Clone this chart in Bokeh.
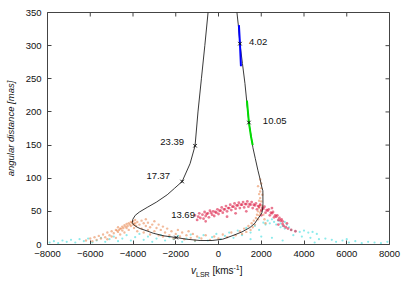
import math
from bokeh.plotting import figure
from bokeh.models import Range1d, FixedTicker, Div
from bokeh.layouts import column
from bokeh.core.properties import value
from bokeh.embed import file_html
from bokeh.resources import INLINE

# ---- data -------------------------------------------------------------
x_ticks = [-8000, -6000, -4000, -2000, 0, 2000, 4000, 6000, 8000]
y_ticks = [0, 50, 100, 150, 200, 250, 300, 350]

# model track (v_LSR [km/s], angular distance [mas])
curve_x = [-400, -489, -640, -800, -960, -1096, -1330, -1702, -2050, -2400, -2900, -3335,
           -3700, -3895, -4010, -4030, -3980, -3801, -3662, -3300, -3055, -2550, -1982,
           -1500, -863, -300, 200, 677, 1100, 1470, 1700, 1843, 1960, 2030, 2070, 2080,
           2076, 2030, 1950, 1843, 1720, 1610, 1520, 1423, 1330, 1237, 1120, 1003, 930,
           863, 775]
curve_y = [380, 350, 300, 250, 200, 149, 122, 95, 85, 75, 64, 56, 49, 44, 38, 33, 30, 26,
           24, 20, 17, 13, 10.5, 8, 6, 6, 8, 13.6, 19, 25.6, 32, 39, 44, 48, 55, 62, 81,
           86, 98, 112, 130, 146, 165, 184, 213, 243, 273, 303, 330, 350, 380]

# epochs marked on the track
epoch_labels = ["4.02", "10.05", "23.39", "17.37", "13.69"]
epoch_x = [1003, 1423, -1096, -1702, -1982]
epoch_y = [303, 184, 149, 95, 10.5]

# label anchors
lab_left_text = ["4.02", "10.05", "13.69"]
lab_left_x = [1423, 2076, -2215]
lab_left_y = [305, 186, 44]
lab_right_text = ["23.39", "17.37"]
lab_right_x = [-1609, -2262]
lab_right_y = [155, 103]

# blue and green maser segments
blue_x = [955, 1003, 1050]
blue_y = [331, 303, 269]
green_x = [1330, 1423, 1520, 1600]
green_y = [217, 184, 163, 150]

orange_pts = [
    (-6200, 6), (-6000, 9), (-5900, 5), (-5800, 11), (-5700, 7), (-5600, 13), (-5500, 9),
    (-5400, 15), (-5300, 11), (-5200, 18), (-5200, 8), (-5100, 14), (-5000, 20), (-5000, 12),
    (-4900, 17), (-4800, 22), (-4800, 10), (-4700, 19), (-4700, 26), (-4600, 24), (-4600, 15),
    (-4500, 27), (-4500, 21), (-4400, 29), (-4400, 18), (-4300, 31), (-4300, 25), (-4200, 32),
    (-4200, 22), (-4100, 34), (-4100, 28), (-4000, 35), (-4000, 30), (-3950, 25), (-3900, 37),
    (-3900, 32), (-3850, 28), (-3800, 34), (-3800, 20), (-4350, 27), (-4150, 30), (-4050, 33),
    (-4650, 22), (-4450, 25), (-4250, 28), (-4550, 24), (-4750, 21), (-3950, 31),
    (-3700, 30), (-3600, 36), (-3600, 24), (-3500, 32), (-3500, 18), (-3400, 28), (-3400, 38),
    (-3300, 22), (-3300, 33), (-3200, 26), (-3200, 15), (-3100, 30), (-3000, 20), (-3000, 35),
    (-2900, 25), (-2800, 14), (-2800, 30), (-2700, 22), (-2600, 27), (-2600, 12), (-2500, 18),
    (-2400, 24), (-2300, 14), (-2200, 20), (-2100, 9), (-2000, 16), (-1900, 22), (-1800, 12),
    (-1700, 18), (-1600, 8), (-1500, 14), (-1400, 20), (-1300, 10), (-1200, 16), (-1100, 6),
    (-1000, 12), (-800, 9), (-600, 14), (-400, 7), (-200, 12), (0, 9), (200, 15), (400, 11),
    (600, 18), (800, 14), (1000, 20), (1100, 16), (1200, 24), (1300, 19), (1400, 28),
    (1500, 22), (1550, 32), (1600, 26), (1650, 36), (1700, 30), (1750, 40), (1800, 45),
    (1850, 38), (1850, 50), (1900, 55), (1900, 44), (1950, 60), (1950, 48), (2000, 65),
    (2000, 52), (1950, 70), (1900, 66), (2050, 75), (1950, 80), (2000, 85), (1900, 76),
    (2000, 92), (1950, 98), (1850, 88), (2050, 58), (2100, 45), (2150, 38), (2200, 32),
]

pink_pts = [
    (-1100, 44), (-1000, 37), (-950, 42),
    (-900, 47), (-850, 40), (-750, 45), (-700, 39), (-650, 49), (-600, 43), (-500, 47),
    (-450, 41), (-400, 51), (-300, 45), (-250, 50), (-200, 43), (-100, 48), (-50, 53),
    (0, 46), (100, 51), (150, 56), (200, 48), (300, 53), (350, 58), (400, 50), (500, 55),
    (550, 60), (600, 52), (700, 57), (750, 62), (800, 54), (900, 59), (950, 63), (1000, 55),
    (1100, 60), (1150, 64), (1200, 56), (1300, 61), (1350, 65), (1400, 57), (1500, 60),
    (1550, 64), (1600, 55), (1700, 59), (1750, 62), (1800, 53), (1900, 57), (1950, 60),
    (2000, 51), (2100, 54), (2150, 57), (2200, 48), (2300, 51), (2350, 53), (2400, 44),
    (2500, 47), (2550, 49), (2600, 41), (2700, 42), (2750, 44), (2800, 37), (2900, 36),
    (2950, 38), (3000, 31), (3050, 28), (3150, 26), (3250, 24), (-600, 35),
    (400, 42), (1300, 50), (2000, 44), (2500, 55), (2800, 30), (3200, 32), (3400, 22),
    (800, 47), (3600, 20),
    (-550, 46), (-350, 48), (-150, 49), (50, 51), (250, 53), (450, 55), (650, 57), (850, 59),
    (1050, 60), (1250, 61), (1450, 61), (1650, 60), (1850, 58), (2050, 55), (2250, 52),
    (2450, 48), (2650, 44), (2850, 40), (3000, 35),
]

cyan_pts = [
    (-7900, 3), (-7700, 5), (-7500, 2), (-7300, 6), (-7100, 4), (-6900, 7), (-6700, 3),
    (-6500, 8), (-6300, 5), (-6100, 9), (-5900, 3), (-5700, 6), (-5500, 10), (-5300, 4),
    (-5100, 8), (-4900, 12), (-4700, 5), (-4500, 9), (-4300, 14), (-4100, 6), (-3900, 11),
    (-3700, 16), (-3500, 7), (-3300, 12), (-3100, 4), (-2900, 9), (-2700, 14), (-2500, 6),
    (-2300, 11), (-2100, 8), (-1900, 13), (-1700, 4), (-1500, 9), (-1300, 15), (-1100, 5),
    (-900, 10), (-700, 14), (-500, 6), (-300, 11), (-100, 16), (100, 8), (300, 13), (500, 18),
    (700, 10), (900, 21), (1100, 14), (1300, 25), (1500, 18), (1700, 28), (1900, 22),
    (2100, 33), (2200, 30), (2300, 36), (2400, 32), (2500, 38), (2600, 34), (2700, 30),
    (2800, 36), (2900, 32), (3000, 28), (3100, 34), (3200, 30), (3300, 26), (3100, 24),
    (2900, 26), (3400, 22), (3600, 20), (3800, 19), (4000, 21), (4200, 18), (4400, 19),
    (4600, 16), (3500, 14), (3900, 12), (4300, 10), (4700, 8), (5000, 9), (5300, 7),
    (5500, 4), (5800, 6), (6100, 3), (6400, 5), (6700, 2), (7000, 4), (7300, 3), (7600, 2),
    (7900, 4), (2500, 10), (3000, 6), (2000, 12), (1500, 8), (4500, 3), (6000, 8),
]

# ---- figure -----------------------------------------------------------
FONT = "Liberation Sans"
X0, X1, Y0, Y1 = -8000, 8000, 0, 350
p = figure(width=407, height=262, x_range=Range1d(X0, X1), y_range=Range1d(Y0, Y1),
           output_backend="svg", toolbar_location=None,
           min_border_left=47, min_border_right=18, min_border_top=12, min_border_bottom=18)
p.grid.visible = False
p.outline_line_color = "#444444"
p.outline_line_width = 1
p.background_fill_color = "white"
p.border_fill_color = "white"

for ax, tk in ((p.xaxis[0], x_ticks), (p.yaxis[0], y_ticks)):
    ax.ticker = FixedTicker(ticks=tk)
    ax.axis_line_color = None
    ax.major_tick_in = 4
    ax.major_tick_out = 0
    ax.major_tick_line_color = "#444444"
    ax.minor_tick_line_color = None
    ax.major_label_text_font = FONT
    ax.major_label_text_font_size = "9.5px"
    ax.major_label_text_color = "#111111"
    ax.major_label_standoff = 6

p.yaxis[0].axis_label = "angular distance [mas]"
p.yaxis[0].axis_label_text_font = FONT
p.yaxis[0].axis_label_text_font_size = "9.5px"
p.yaxis[0].axis_label_text_font_style = "italic"
p.yaxis[0].axis_label_standoff = 7
p.yaxis[0].axis_label_text_color = "#111111"

# mirrored inward ticks on the top and right edges (half of each dash is clipped away)
p.scatter(x_ticks, [Y1] * len(x_ticks), marker="dash", size=8, angle=math.pi / 2,
          line_color="#444444", line_width=1)
p.scatter([X1] * len(y_ticks), y_ticks, marker="dash", size=8,
          line_color="#444444", line_width=1)

# clouds
p.scatter([a for a, b in cyan_pts], [b for a, b in cyan_pts], size=2.2,
          color="#40dde0", alpha=0.6, line_color=None)
p.scatter([a for a, b in orange_pts], [b for a, b in orange_pts], size=2.4,
          color="#e8844a", alpha=0.55, line_color=None)
p.scatter([a for a, b in pink_pts], [b for a, b in pink_pts], size=2.8,
          color="#dc2048", alpha=0.6, line_color=None)

# track
p.line(curve_x, curve_y, color="#222222", line_width=0.9)
p.line(blue_x, blue_y, color="#0000ff", line_width=2)
p.line(green_x, green_y, color="#00dd00", line_width=2)
p.scatter(epoch_x, epoch_y, marker="x", size=5, line_color="#111111", line_width=1)

p.text(lab_left_x, lab_left_y, text=lab_left_text, text_font=value(FONT),
       text_font_size="9.5px", text_align="left", text_baseline="middle", text_color="#111111")
p.text(lab_right_x, lab_right_y, text=lab_right_text, text_font=value(FONT),
       text_font_size="9.5px", text_align="right", text_baseline="middle", text_color="#111111")

# x-axis label: v_LSR [kms^-1]  (HTML text below the plot)
xlabel_html = (
    "<div style=\"font-family:'Liberation Sans';font-size:10px;line-height:12px;"
    "padding-left:191px;color:#111111;white-space:nowrap;margin:0\">"
    "<i>v</i><span style=\"font-size:7px;position:relative;top:2.5px\">LSR</span>"
    " [kms<span style=\"font-size:7px;position:relative;top:-4px\">-1</span>]</div>"
)
xlabel = Div(text=xlabel_html, width=407, height=23, margin=(0, 0, 0, 0))

layout = column(p, xlabel, spacing=0)
open("out.html", "w").write(file_html(layout, INLINE))
